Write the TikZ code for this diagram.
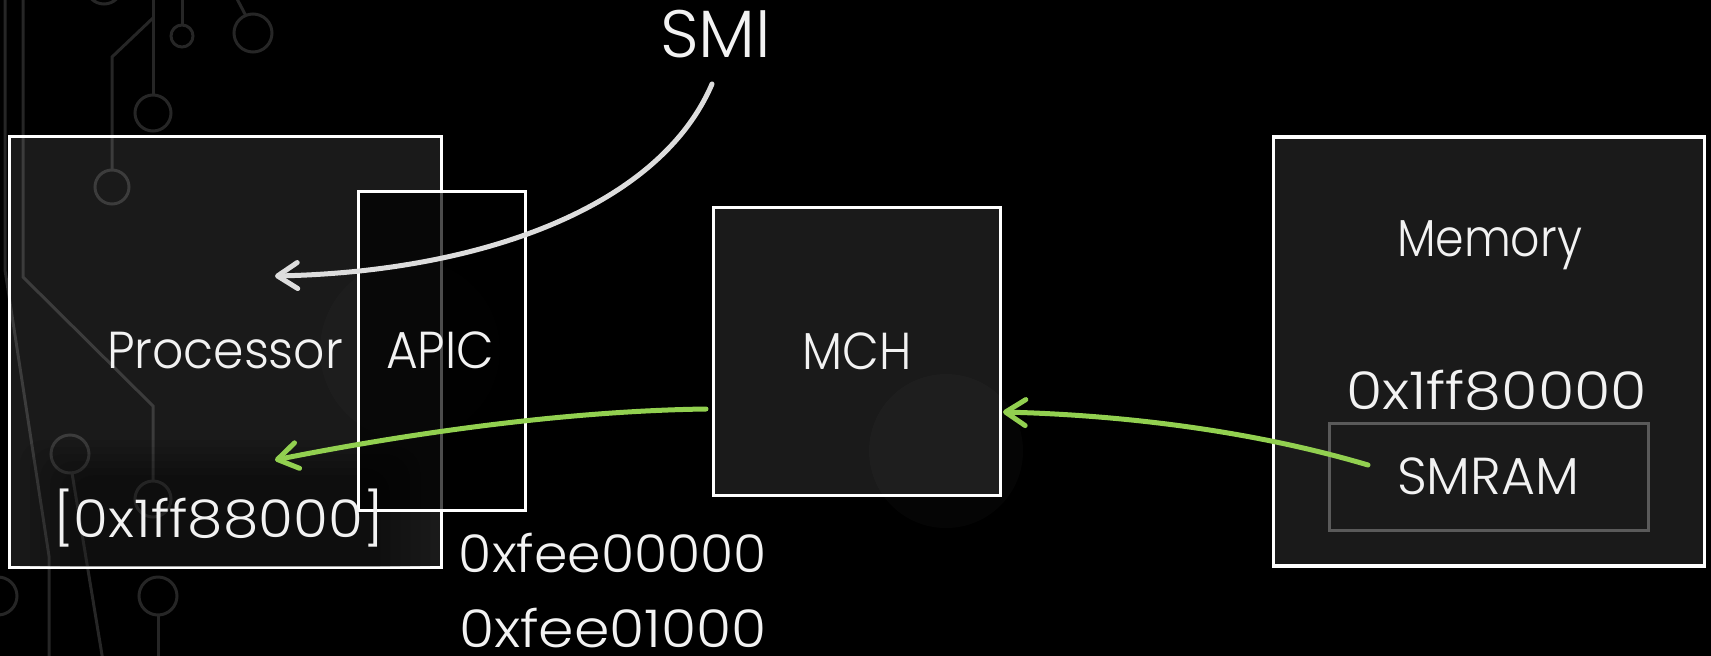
\documentclass[tikz,border=0pt]{standalone}
\usepackage{fontspec}
\IfFontExistsTF{Poppins Light}{\setmainfont{Poppins Light}}{\setmainfont{Poppins}}
\usetikzlibrary{arrows.meta}
\definecolor{trace}{HTML}{262626}
\definecolor{grn}{HTML}{92D050}
\definecolor{smiarrow}{HTML}{DDDDDD}
\definecolor{txt}{HTML}{F2F2F2}
\definecolor{smramline}{HTML}{5A5A5A}
\newcommand{\fitw}[2]{\resizebox{#1}{\height}{#2}}
\tikzset{
  unitbox/.style={draw=white, line width=3.5pt, fill=white, fill opacity=0.1, inner sep=0pt},
  apicbox/.style={draw=white, line width=3.5pt, fill=black, fill opacity=0.7, inner sep=0pt},
  smrambox/.style={draw=smramline, line width=3pt, inner sep=0pt},
  lbl/.style={text=txt, inner sep=0pt, anchor=base, font=\fontsize{52}{60}\selectfont},
  biglbl/.style={lbl, font=\fontsize{67}{75}\selectfont},
  trc/.style={draw=trace, line width=3pt},
  arr/.style={line width=5pt, line cap=round, -{Straight Barb[length=20pt,width=26pt,round]}},
}
\begin{document}
\begin{tikzpicture}[x=1pt,y=-1pt]
\useasboundingbox (0,0) rectangle (1711,656);
\fill[black] (0,0) rectangle (1711,656);
% circuit traces (background)
\draw[trc] (5,-5) -- (5,270) -- (49,556) -- (49,661);
\draw[trc] (23,-5) -- (23,277) -- (153,406) -- (153,481);
\draw[trc] (153,499) circle[radius=18pt];
\draw[trc] (153,-5) -- (153,95);
\draw[trc] (153,113) circle[radius=18pt];
\draw[trc] (153,18) -- (112,57) -- (112,170);
\draw[trc] (112,187) circle[radius=17pt];
\draw[trc] (182,-5) -- (182,25);
\draw[trc] (182,36) circle[radius=11pt];
\draw[trc] (235,-5) -- (246,16);
\draw[trc] (253,33) circle[radius=19pt];
\draw[trc] (104,-14) circle[radius=18pt];
\draw[trc] (70,454) circle[radius=19pt];
\draw[trc] (72,473) -- (103,661);
\draw[trc] (158,596) circle[radius=19pt];
\draw[trc] (158,615) -- (158,661);
\draw[trc] (-2,596) circle[radius=19pt];
% boxes
\node[unitbox, minimum width=432pt, minimum height=431pt] (proc) at (225.5,352) {};
\begin{scope}
  \clip (11,138) rectangle (440,566);
  \foreach \i in {0,...,5}
    \fill[black, opacity=0.07, rounded corners=25pt] (20+10*\i,440+7*\i) rectangle (430-10*\i,600);
\end{scope}
\fill[white, opacity=0.015] (410,350) circle[radius=90pt];
\node[apicbox, minimum width=167pt, minimum height=319pt] (apic) at (442,351) {};
\node[unitbox, minimum width=287pt, minimum height=288pt] (mch) at (857,351.5) {};
\fill[white, opacity=0.02] (946,451) circle[radius=77pt];
\node[unitbox, minimum width=431pt, minimum height=429pt] (mem) at (1489,351.5) {};
\node[smrambox, minimum width=319pt, minimum height=107pt] (smram) at (1489,477) {};
% labels
\node[biglbl] (smi) at (715.5,57) {\fitw{111pt}{SMI}};
\node[lbl] (proclbl) at (225,368) {\fitw{236pt}{Processor}};
\node[lbl] (apiclbl) at (440,368) {\fitw{108pt}{APIC}};
\node[lbl] (addr1) at (218.5,537) {\fitw{331pt}{[0x1ff88000]}};
\node[lbl] (fee0) at (613,572) {\fitw{308pt}{0xfee00000}};
\node[lbl] (fee1) at (613,647) {\fitw{308pt}{0xfee01000}};
\node[lbl] (mchlbl) at (857,369) {\fitw{109pt}{MCH}};
\node[lbl] (memlbl) at (1489.5,256) {\fitw{185pt}{Memory}};
\node[lbl] (smaddr) at (1496.5,409) {\fitw{301pt}{0x1ff80000}};
\node[lbl] (smramlbl) at (1488,494) {\fitw{182pt}{SMRAM}};
% connectors
\coordinate (smis) at (712,84);
\coordinate (smie) at (275,276);
\coordinate (g1s) at (706,409);
\coordinate (g1e) at (275,460);
\coordinate (g2s) at (1368,465);
\coordinate (g2e) at (1003,412);
\draw[arr, draw=smiarrow] (smis) .. controls (658,210) and (475,272) .. (smie);
\draw[arr, draw=grn] (g1s) .. controls (560,411) and (400,435) .. (g1e);
\draw[arr, draw=grn] (g2s) .. controls (1250,430) and (1120,415) .. (g2e);
\end{tikzpicture}
\end{document}
